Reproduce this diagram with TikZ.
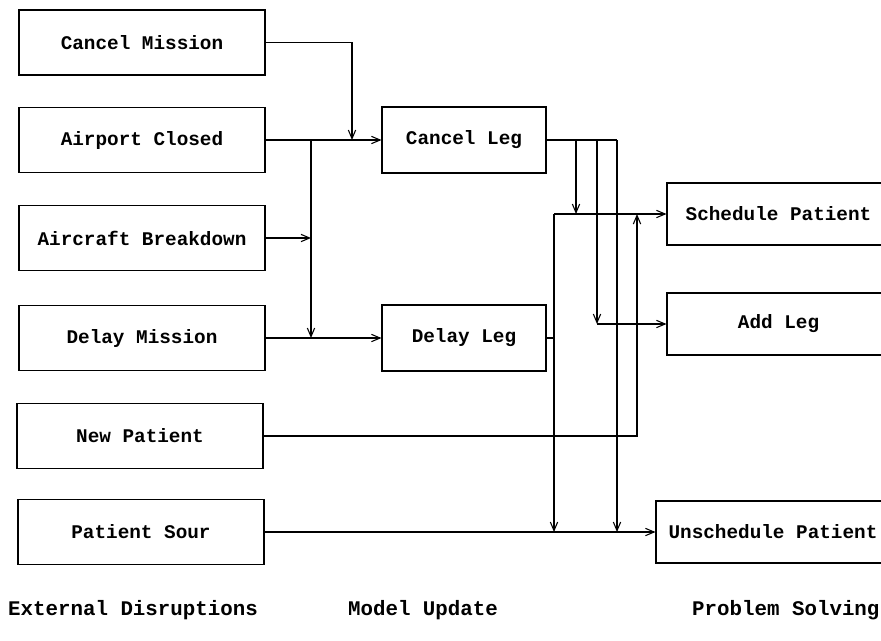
\documentclass[tikz,border=0pt]{standalone}
\usepackage{fontspec}
\setmonofont{Liberation Mono}
\usepackage{tikz}
\usetikzlibrary{arrows.meta}

\tikzset{
  lbox/.style={draw, rectangle, inner sep=0pt, minimum width=184.5pt, minimum height=48.75pt,
    font=\ttfamily\bfseries\fontsize{14.5}{17}\selectfont},
  mbox/.style={lbox, minimum width=123pt, minimum height=49.5pt},
  rbox/.style={lbox, minimum width=167.25pt, minimum height=46.5pt},
  lbl/.style={inner sep=0pt, font=\ttfamily\bfseries\fontsize{15.6}{18}\selectfont}
}

\begin{document}
\begin{tikzpicture}[x=0.75pt,y=0.75pt,yscale=-1,xscale=1,line width=0.8pt,>={Straight Barb[length=6.5pt,width=5.5pt]}]
\useasboundingbox (0,0) rectangle (881,640);

%External disruptions
\node[lbox] (cmis) at (142,42.5) {Cancel Mission};
\node[lbox] (aclo) at (142,140) {Airport Closed};
\node[lbox] (abrk) at (142,238) {Aircraft Breakdown};
\node[lbox] (dmis) at (142,338) {Delay Mission};
\node[lbox] (npat) at (140,436) {New Patient};
\node[lbox] (psour) at (141,532) {Patient Sour};

%Model update
\node[mbox] (cleg) at (464,140) {Cancel Leg};
\node[mbox] (dleg) at (464,338) {Delay Leg};

%Problem solving
\node[rbox] (spat) at (778.5,214) {Schedule Patient};
\node[rbox] (aleg) at (778.5,324) {Add Leg};
\node[rbox, minimum width=175.5pt] (upat) at (773,532) {Unschedule Patient};

%Junction points
\coordinate (cmdrop) at (352,140);
\coordinate (actop) at (311,140);
\coordinate (abjoin) at (311,238);
\coordinate (dmjoin) at (311,338);
\coordinate (clsch) at (576,140);
\coordinate (cladd) at (597,140);
\coordinate (clend) at (617,140);
\coordinate (dlout) at (554,338);
\coordinate (dltop) at (554,214);
\coordinate (nprise) at (637,436);

%Disruptions into the model
\draw[->] (cmis.east) -| (cmdrop);
\draw[->] (aclo.east) -- (cleg.west);
\draw[->] (actop) -- (dmjoin);
\draw[->] (abrk.east) -- (abjoin);
\draw[->] (dmis.east) -- (dleg.west);

%Cancel Leg outputs
\draw (cleg.east) -- (clend);
\draw[->] (clsch) -- (clsch |- spat.west);
\draw[->] (cladd) -- (cladd |- aleg.west);
\draw[->] (cladd |- aleg.west) -- (aleg.west);
\draw[->] (clend) -- (clend |- upat.west);

%Delay Leg outputs
\draw (dleg.east) -- (dlout);
\draw[->] (dltop) -- (dltop |- upat.west);
\draw[->] (dltop) -- (spat.west);

%Patient events
\draw[->] (npat.east) -- (nprise) -- (nprise |- spat.west);
\draw[->] (psour.east) -- (upat.west);

% Column captions
\node[lbl] (ext) at (133,610) {External Disruptions};
\node[lbl] (mod) at (423,610) {Model Update};
\node[lbl, anchor=east] (prob) at (880,610) {Problem Solving};

\end{tikzpicture}
\end{document}
